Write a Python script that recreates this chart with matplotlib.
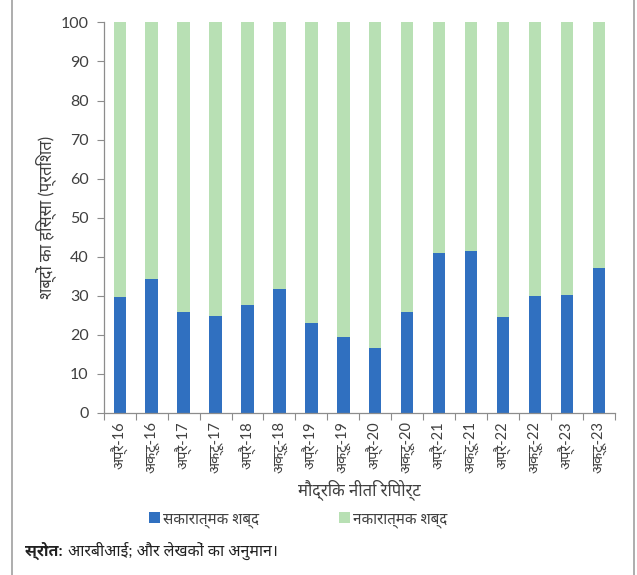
import matplotlib
matplotlib.use("Agg")
import matplotlib.pyplot as plt
from matplotlib import font_manager
from matplotlib.ft2font import FT2Font
from matplotlib.lines import Line2D
import numpy as np


# Quarterly periods of the monetary policy report
periods = ['अप्रै-16', 'अक्टू-16', 'अप्रै-17', 'अक्टू-17', 'अप्रै-18', 'अक्टू-18',
           'अप्रै-19', 'अक्टू-19', 'अप्रै-20', 'अक्टू-20', 'अप्रै-21', 'अक्टू-21',
           'अप्रै-22', 'अक्टू-22', 'अप्रै-23', 'अक्टू-23']

# Share of positive words (per cent); negative is the remainder up to 100
positive = [29.7, 34.2, 25.9, 24.7, 27.5, 31.8, 22.9, 19.5,
            16.6, 25.9, 40.9, 41.4, 24.6, 29.9, 30.1, 37.0]
negative = [100 - p for p in positive]

BLUE = '#3070c0'
GREEN = '#b8e0b4'
AXIS_GREY = '#8c8c8c'
TEXT = '#404040'


# Picks an installed font that can draw Devanagari, sans faces first
def find_devanagari_font():
    found = []
    for f in font_manager.fontManager.ttflist:
        try:
            cmap = FT2Font(f.fname).get_charmap()
        except Exception:
            continue
        if 0x0915 in cmap and 0x093F in cmap:
            found.append(f.name)
    if not found:
        return None

    def rank(name):
        low = name.lower()
        for i, key in enumerate(['noto sans devanagari', 'devanagari', 'lohit', 'mukta',
                                 'hind', 'freesans', 'sans']):
            if key in low:
                return i
        if 'mono' in low:
            return 99
        return 50
    return sorted(set(found), key=rank)[0]


deva = find_devanagari_font()
families = ['Lato', deva, 'DejaVu Sans'] if deva else ['Lato', 'DejaVu Sans']
plt.rcParams['font.family'] = families

fig = plt.figure(figsize=(6.37, 5.75), dpi=100)
ax = fig.add_axes([0.163, 0.282, 0.802, 0.679])

x = np.arange(len(periods))
ax.bar(x, positive, width=0.39, color=BLUE, label='सकारात्मक शब्द')
ax.bar(x, negative, width=0.39, bottom=positive, color=GREEN, label='नकारात्मक शब्द')

ax.set_xlim(-0.5, len(periods) - 0.5)
ax.set_ylim(0, 100)
ax.set_yticks(np.arange(0, 101, 10))
ax.tick_params(axis='y', labelsize=11.5, colors=TEXT, length=5, width=0.8,
               color=AXIS_GREY, pad=6)

# category labels sit under bars, ticks mark the boundaries between them
ax.set_xticks(x)
ax.set_xticklabels(periods, rotation=90, fontsize=10.5, color=TEXT)
ax.tick_params(axis='x', which='major', length=0, pad=6)
ax.set_xticks(np.arange(-0.5, len(periods), 1), minor=True)
ax.tick_params(axis='x', which='minor', length=5, width=0.8, color=AXIS_GREY)

for side in ['top', 'right']:
    ax.spines[side].set_visible(False)
for side in ['left', 'bottom']:
    ax.spines[side].set_color(AXIS_GREY)
    ax.spines[side].set_linewidth(0.9)

ax.set_ylabel('शब्दों का हिस्सा (प्रतिशत)', fontsize=12, color=TEXT, labelpad=3)
ax.set_xlabel('मौद्रिक नीति रिपोर्ट', fontsize=12, color=TEXT, labelpad=4)

fig.legend(loc='center', bbox_to_anchor=(0.468, 1 - 520 / 575), ncol=2,
           frameon=False, fontsize=11, handlelength=0.75, handleheight=0.75,
           handletextpad=0.2, columnspacing=5.2, labelcolor=TEXT)

# source line: bold lead-in, regular text right after it
src_y = 1 - 551 / 575
lead = fig.text(0.04, src_y, 'स्रोत:', fontsize=11.5, fontweight='bold',
                color='#202020', va='center')
fig.canvas.draw()
bb = lead.get_window_extent(renderer=fig.canvas.get_renderer())
fig.text(bb.x1 / fig.bbox.width + 0.008, src_y, 'आरबीआई; और लेखकों का अनुमान।',
         fontsize=11.5, color='#202020', va='center')

# thin frame lines at the left and right edges
for xf in [12 / 637, 634 / 637]:
    fig.add_artist(Line2D([xf, xf], [0, 1], transform=fig.transFigure,
                          color='#a0a0a0', linewidth=1.2))

fig.savefig('out.png', dpi=100)
